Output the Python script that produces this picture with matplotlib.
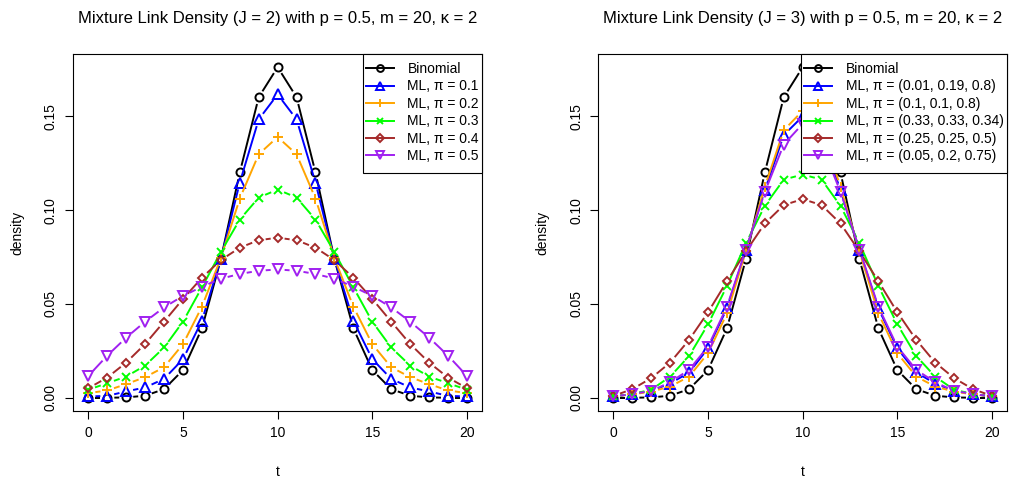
import numpy as np
import matplotlib
matplotlib.use('Agg')
import matplotlib.pyplot as plt
from matplotlib.lines import Line2D
from matplotlib.patches import Rectangle
from matplotlib.transforms import IdentityTransform

plt.rcParams['font.family'] = ['Liberation Sans', 'DejaVu Sans']

t = np.arange(21)

# binomial(20, 0.5) reference curve
binom = [0.0000, 0.0000, 0.0002, 0.0011, 0.0046, 0.0148, 0.0370, 0.0739, 0.1201, 0.1602, 0.1762,
         0.1602, 0.1201, 0.0739, 0.0370, 0.0148, 0.0046, 0.0011, 0.0002, 0.0000, 0.0000]

# J = 2 panel
ml_01 = [0.0007, 0.0010, 0.0034, 0.0055, 0.0101, 0.0206, 0.0411, 0.0740, 0.1147, 0.1484, 0.1617,
         0.1484, 0.1147, 0.0740, 0.0411, 0.0206, 0.0101, 0.0055, 0.0034, 0.0010, 0.0007]
ml_02 = [0.0025, 0.0039, 0.0073, 0.0110, 0.0163, 0.0286, 0.0486, 0.0745, 0.1062, 0.1298, 0.1390,
         0.1298, 0.1062, 0.0745, 0.0486, 0.0286, 0.0163, 0.0110, 0.0073, 0.0039, 0.0025]
ml_03 = [0.0043, 0.0078, 0.0113, 0.0172, 0.0268, 0.0406, 0.0589, 0.0777, 0.0950, 0.1067, 0.1110,
         0.1067, 0.0950, 0.0777, 0.0589, 0.0406, 0.0268, 0.0172, 0.0113, 0.0078, 0.0043]
ml_04 = [0.0051, 0.0108, 0.0188, 0.0287, 0.0406, 0.0527, 0.0640, 0.0734, 0.0800, 0.0840, 0.0853,
         0.0840, 0.0800, 0.0734, 0.0640, 0.0527, 0.0406, 0.0287, 0.0188, 0.0108, 0.0051]
ml_05 = [0.0117, 0.0225, 0.0321, 0.0406, 0.0482, 0.0543, 0.0592, 0.0635, 0.0660, 0.0677, 0.0684,
         0.0677, 0.0660, 0.0635, 0.0592, 0.0543, 0.0482, 0.0406, 0.0321, 0.0225, 0.0117]

# J = 3 panel
ml3_a = [0.0007, 0.0020, 0.0037, 0.0076, 0.0135, 0.0264, 0.0477, 0.0787, 0.1106, 0.1400, 0.1500,
         0.1400, 0.1106, 0.0787, 0.0477, 0.0264, 0.0135, 0.0076, 0.0037, 0.0020, 0.0007]
ml3_b = [0.0007, 0.0018, 0.0033, 0.0060, 0.0113, 0.0238, 0.0450, 0.0780, 0.1124, 0.1426, 0.1530,
         0.1426, 0.1124, 0.0780, 0.0450, 0.0238, 0.0113, 0.0060, 0.0033, 0.0018, 0.0007]
ml3_c = [0.0007, 0.0020, 0.0043, 0.0113, 0.0223, 0.0392, 0.0596, 0.0823, 0.1023, 0.1163, 0.1190,
         0.1163, 0.1023, 0.0823, 0.0596, 0.0392, 0.0223, 0.0113, 0.0043, 0.0020, 0.0007]
ml3_d = [0.0010, 0.0046, 0.0105, 0.0188, 0.0309, 0.0456, 0.0621, 0.0780, 0.0929, 0.1027, 0.1059,
         0.1027, 0.0929, 0.0780, 0.0621, 0.0456, 0.0309, 0.0188, 0.0105, 0.0046, 0.0010]
ml3_e = [0.0007, 0.0020, 0.0037, 0.0083, 0.0149, 0.0273, 0.0486, 0.0790, 0.1097, 0.1350, 0.1460,
         0.1350, 0.1097, 0.0790, 0.0486, 0.0273, 0.0149, 0.0083, 0.0037, 0.0020, 0.0007]

labels_j2 = ['Binomial', 'ML, π = 0.1', 'ML, π = 0.2', 'ML, π = 0.3', 'ML, π = 0.4', 'ML, π = 0.5']
labels_j3 = ['Binomial', 'ML, π = (0.01, 0.19, 0.8)', 'ML, π = (0.1, 0.1, 0.8)',
             'ML, π = (0.33, 0.33, 0.34)', 'ML, π = (0.25, 0.25, 0.5)', 'ML, π = (0.05, 0.2, 0.75)']

colors = ['black', '#0000FF', '#FFA500', '#00FF00', '#A52A2A', '#A020F0']
markers = ['o', '^', '+', 'x', 'D', 'v']
msizes = [5.8, 7.0, 7.0, 5.8, 4.3, 7.0]
LW = 1.4


def draw_b(ax, x, y, color, marker, ms, gap=7.0):
    # R's type="b": points joined by lines that stop short of each point
    pts = ax.transData.transform(np.column_stack([x, y]))
    inv = ax.transData.inverted()
    for p0, p1 in zip(pts[:-1], pts[1:]):
        d = p1 - p0
        L = np.hypot(*d)
        if L <= 2 * gap:
            continue
        u = d / L
        seg = inv.transform(np.array([p0 + u * gap, p1 - u * gap]))
        ax.plot(seg[:, 0], seg[:, 1], color=color, lw=LW, solid_capstyle='butt')
    ax.plot(x, y, ls='none', marker=marker, ms=ms, mfc='none', mec=color, mew=LW)


fig = plt.figure(figsize=(10.12, 4.82), dpi=100)
ax1 = fig.add_axes([0.0724, 0.1473, 0.4039, 0.7407])
ax2 = fig.add_axes([0.5912, 0.1473, 0.4039, 0.7407])

panels = [
    (ax1, [binom, ml_01, ml_02, ml_03, ml_04, ml_05], labels_j2, 2),
    (ax2, [binom, ml3_a, ml3_b, ml3_c, ml3_d, ml3_e], labels_j3, 3),
]

legends = []
for ax, series, labels, J in panels:
    ax.set_xlim(-0.8, 20.8)
    ax.set_ylim(-0.00705, 0.18325)
    for y, c, m, s in zip(series, colors, markers, msizes):
        draw_b(ax, t, y, c, m, s)
    ax.set_xticks([0, 5, 10, 15, 20])
    ax.set_yticks([0.00, 0.05, 0.10, 0.15])
    ax.set_yticklabels(['0.00', '0.05', '0.10', '0.15'], rotation=90, va='center')
    ax.tick_params(direction='out', length=6, width=0.8, labelsize=10, pad=5)
    for sp in ax.spines.values():
        sp.set_linewidth(0.8)
    ax.set_xlabel('t', fontsize=10, labelpad=18)
    ax.set_ylabel('density', fontsize=10, labelpad=14)
    ax.set_title(f'Mixture Link Density (J = {J}) with p = 0.5, m = 20, κ = 2', fontsize=12, pad=22)

    handles = [Line2D([], [], color=c, lw=LW, marker=m, ms=s * 0.85, mfc='none', mec=c, mew=LW)
               for c, m, s in zip(colors, markers, msizes)]
    corner = ax.transAxes.transform((1, 1))
    leg = ax.legend(handles, labels, loc='upper right', fontsize=10, frameon=False,
                    bbox_to_anchor=(corner[0] - 3, corner[1] - 8), bbox_transform=IdentityTransform(),
                    borderaxespad=0, borderpad=0, handlelength=2.0, handletextpad=1.0,
                    labelspacing=0.25, numpoints=1)
    leg.set_zorder(5)
    legends.append((ax, leg))

# legend frame: R pads more vertically than horizontally
fig.canvas.draw()
for ax, leg in legends:
    bb = leg.get_window_extent()
    corner = ax.transAxes.transform((1, 1))
    x0, y0 = bb.x0 - 3, bb.y0 - 10
    frame = Rectangle((x0, y0), corner[0] - x0, corner[1] - y0, transform=IdentityTransform(),
                      facecolor='white', edgecolor='black', lw=0.8, zorder=4.9, clip_on=False)
    ax.add_artist(frame)

fig.savefig('out.png', dpi=100)
